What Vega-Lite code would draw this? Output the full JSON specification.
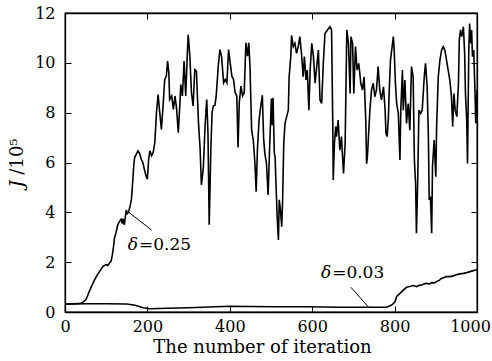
{
  "$schema": "https://vega.github.io/schema/vega-lite/v6.json",
  "width": 412,
  "height": 299,
  "autosize": {"type": "none"},
  "padding": {"left": 65, "top": 13, "right": 15, "bottom": 49},
  "background": "white",
  "config": {
    "view": {"stroke": "black", "strokeWidth": 1.3},
    "font": "DejaVu Serif",
    "axis": {
      "domainColor": "black", "domainWidth": 1.3, "tickColor": "black", "tickWidth": 1,
      "labelColor": "black", "labelFont": "DejaVu Serif", "labelFontSize": 16,
      "titleColor": "black", "titleFont": "DejaVu Serif", "titleFontSize": 18, "titleFontWeight": "normal",
      "grid": false
    }
  },
  "datasets": {
    "d025": [
      {"x":0,"y":0.33},{"x":10,"y":0.33},{"x":20,"y":0.33},{"x":30,"y":0.34},{"x":39,"y":0.35},{"x":45,"y":0.42},{"x":51,"y":0.5},{"x":55,"y":0.65},{"x":59,"y":0.83},{"x":65,"y":1.05},{"x":72,"y":1.3},{"x":78,"y":1.48},{"x":84,"y":1.63},{"x":92,"y":1.83},{"x":100,"y":1.9},{"x":104,"y":1.87},{"x":108,"y":1.96},{"x":112,"y":2.05},{"x":115,"y":2.3},{"x":118,"y":2.65},{"x":120,"y":2.96},{"x":124,"y":3.2},{"x":128,"y":3.5},{"x":132,"y":3.63},{"x":136,"y":3.72},{"x":139,"y":3.55},{"x":141,"y":3.75},{"x":144,"y":3.5},{"x":147,"y":3.9},{"x":149,"y":4.1},{"x":151,"y":3.95},{"x":154,"y":4.0},{"x":158,"y":4.25},{"x":161,"y":4.5},{"x":163,"y":4.9},{"x":165,"y":5.4},{"x":167,"y":5.9},{"x":169,"y":6.2},{"x":173,"y":6.33},{"x":177,"y":6.47},{"x":181,"y":6.37},{"x":185,"y":6.13},{"x":189,"y":6.0},{"x":193,"y":5.7},{"x":197,"y":5.45},{"x":200,"y":5.33},{"x":203,"y":6.13},{"x":206,"y":6.47},{"x":210,"y":6.27},{"x":214,"y":6.4},{"x":218,"y":6.8},{"x":222,"y":8.0},{"x":226,"y":8.73},{"x":230,"y":8.0},{"x":234,"y":7.33},{"x":238,"y":8.27},{"x":242,"y":9.33},{"x":246,"y":9.47},{"x":249,"y":10.07},{"x":252,"y":9.6},{"x":254,"y":8.53},{"x":259,"y":8.67},{"x":263,"y":8.13},{"x":267,"y":8.67},{"x":271,"y":8.13},{"x":275,"y":7.2},{"x":279,"y":8.4},{"x":281,"y":9.13},{"x":285,"y":8.67},{"x":289,"y":10.07},{"x":293,"y":8.67},{"x":297,"y":10.4},{"x":299,"y":11.13},{"x":303,"y":10.27},{"x":307,"y":8.8},{"x":311,"y":8.27},{"x":315,"y":9.73},{"x":319,"y":9.67},{"x":324,"y":7.6},{"x":328,"y":6.53},{"x":331,"y":5.1},{"x":334,"y":5.5},{"x":336,"y":5.87},{"x":340,"y":7.47},{"x":344,"y":8.53},{"x":347,"y":7.2},{"x":350,"y":3.5},{"x":352,"y":5.0},{"x":354,"y":6.53},{"x":357,"y":8.0},{"x":360,"y":8.27},{"x":364,"y":8.3},{"x":367,"y":8.67},{"x":372,"y":9.87},{"x":376,"y":10.53},{"x":380,"y":10.27},{"x":385,"y":9.2},{"x":389,"y":9.33},{"x":393,"y":9.2},{"x":397,"y":10.53},{"x":401,"y":10.0},{"x":405,"y":9.47},{"x":409,"y":9.33},{"x":413,"y":8.8},{"x":417,"y":8.67},{"x":420,"y":6.6},{"x":423,"y":8.4},{"x":427,"y":9.07},{"x":431,"y":8.67},{"x":435,"y":8.8},{"x":439,"y":10.8},{"x":443,"y":10.27},{"x":446,"y":10.8},{"x":449,"y":9.85},{"x":453,"y":7.3},{"x":457,"y":6.9},{"x":461,"y":5.96},{"x":464,"y":4.83},{"x":467,"y":6.5},{"x":471,"y":7.7},{"x":475,"y":8.24},{"x":479,"y":8.7},{"x":482,"y":7.0},{"x":485,"y":6.37},{"x":489,"y":5.96},{"x":493,"y":4.7},{"x":497,"y":6.77},{"x":501,"y":8.57},{"x":503,"y":7.5},{"x":505,"y":8.6},{"x":508,"y":6.4},{"x":510,"y":6.2},{"x":512,"y":5.2},{"x":515,"y":3.82},{"x":518,"y":2.89},{"x":520,"y":4.5},{"x":523,"y":4.09},{"x":526,"y":3.42},{"x":528,"y":4.36},{"x":531,"y":6.77},{"x":534,"y":7.57},{"x":538,"y":7.84},{"x":542,"y":8.1},{"x":544,"y":9.44},{"x":548,"y":10.25},{"x":550,"y":11.1},{"x":554,"y":10.65},{"x":558,"y":10.78},{"x":562,"y":10.38},{"x":566,"y":10.65},{"x":570,"y":11.05},{"x":574,"y":10.38},{"x":578,"y":9.44},{"x":581,"y":10.25},{"x":585,"y":9.31},{"x":588,"y":9.71},{"x":592,"y":8.1},{"x":595,"y":9.71},{"x":599,"y":10.78},{"x":603,"y":10.25},{"x":607,"y":9.18},{"x":611,"y":9.85},{"x":615,"y":10.51},{"x":619,"y":8.51},{"x":623,"y":8.37},{"x":627,"y":9.98},{"x":631,"y":11.18},{"x":637,"y":11.32},{"x":643,"y":11.45},{"x":647,"y":11.32},{"x":650,"y":7.44},{"x":651,"y":5.3},{"x":654,"y":6.77},{"x":657,"y":7.44},{"x":659,"y":7.04},{"x":663,"y":7.7},{"x":667,"y":6.5},{"x":671,"y":7.04},{"x":676,"y":5.56},{"x":680,"y":6.77},{"x":684,"y":11.32},{"x":688,"y":10.78},{"x":692,"y":8.77},{"x":694,"y":11.05},{"x":698,"y":10.78},{"x":701,"y":8.77},{"x":705,"y":10.65},{"x":709,"y":9.71},{"x":713,"y":9.98},{"x":718,"y":9.18},{"x":722,"y":8.91},{"x":726,"y":9.44},{"x":730,"y":7.7},{"x":732,"y":5.95},{"x":734,"y":6.23},{"x":737,"y":7.17},{"x":740,"y":8.1},{"x":744,"y":8.91},{"x":748,"y":9.18},{"x":752,"y":8.64},{"x":756,"y":8.91},{"x":760,"y":9.85},{"x":764,"y":8.91},{"x":768,"y":8.51},{"x":773,"y":9.04},{"x":777,"y":8.1},{"x":779,"y":7.17},{"x":782,"y":7.04},{"x":785,"y":7.84},{"x":787,"y":8.91},{"x":790,"y":10.11},{"x":794,"y":10.65},{"x":797,"y":11.05},{"x":799,"y":10.51},{"x":802,"y":9.18},{"x":805,"y":8.37},{"x":809,"y":7.97},{"x":813,"y":6.1},{"x":815,"y":8.1},{"x":819,"y":9.71},{"x":821,"y":8.1},{"x":825,"y":9.31},{"x":829,"y":7.57},{"x":833,"y":8.37},{"x":837,"y":7.3},{"x":841,"y":9.85},{"x":845,"y":9.44},{"x":848,"y":6.1},{"x":851,"y":5.16},{"x":853,"y":3.16},{"x":856,"y":5.16},{"x":859,"y":8.1},{"x":863,"y":7.97},{"x":867,"y":8.1},{"x":872,"y":9.44},{"x":875,"y":9.98},{"x":879,"y":9.04},{"x":882,"y":7.04},{"x":884,"y":4.5},{"x":887,"y":4.63},{"x":890,"y":3.16},{"x":892,"y":5.83},{"x":896,"y":6.9},{"x":900,"y":5.43},{"x":902,"y":7.44},{"x":906,"y":9.44},{"x":910,"y":10.11},{"x":914,"y":10.51},{"x":918,"y":10.65},{"x":922,"y":10.51},{"x":926,"y":10.11},{"x":930,"y":9.71},{"x":934,"y":9.31},{"x":938,"y":8.64},{"x":941,"y":7.44},{"x":944,"y":8.77},{"x":947,"y":8.1},{"x":951,"y":7.84},{"x":955,"y":9.18},{"x":957,"y":10.91},{"x":960,"y":11.32},{"x":963,"y":11.05},{"x":967,"y":11.45},{"x":970,"y":10.38},{"x":972,"y":8.77},{"x":975,"y":7.7},{"x":977,"y":5.96},{"x":980,"y":10.38},{"x":982,"y":11.58},{"x":985,"y":10.78},{"x":987,"y":11.32},{"x":989,"y":10.25},{"x":992,"y":10.51},{"x":995,"y":8.91},{"x":997,"y":7.57},{"x":999,"y":8.1},{"x":1000,"y":8.91}
    ],
    "d003": [
      {"x":0,"y":0.31},{"x":50,"y":0.33},{"x":100,"y":0.33},{"x":150,"y":0.32},{"x":170,"y":0.27},{"x":190,"y":0.17},{"x":205,"y":0.13},{"x":250,"y":0.15},{"x":300,"y":0.17},{"x":350,"y":0.2},{"x":400,"y":0.23},{"x":450,"y":0.22},{"x":506,"y":0.21},{"x":586,"y":0.21},{"x":667,"y":0.19},{"x":732,"y":0.19},{"x":781,"y":0.19},{"x":793,"y":0.28},{"x":801,"y":0.41},{"x":805,"y":0.62},{"x":813,"y":0.75},{"x":821,"y":0.88},{"x":829,"y":0.99},{"x":837,"y":1.02},{"x":845,"y":1.06},{"x":853,"y":1.02},{"x":860,"y":1.07},{"x":866,"y":1.08},{"x":872,"y":1.13},{"x":878,"y":1.15},{"x":884,"y":1.12},{"x":890,"y":1.18},{"x":896,"y":1.17},{"x":902,"y":1.22},{"x":908,"y":1.27},{"x":914,"y":1.35},{"x":920,"y":1.38},{"x":926,"y":1.42},{"x":934,"y":1.42},{"x":943,"y":1.45},{"x":951,"y":1.5},{"x":959,"y":1.53},{"x":967,"y":1.55},{"x":975,"y":1.58},{"x":983,"y":1.62},{"x":991,"y":1.66},{"x":1000,"y":1.71}
    ],
    "labels": [
      {"x":177,"y":2.49,"sym":"δ","rest":"=0.25"},
      {"x":646,"y":1.35,"sym":"δ","rest":"=0.03"}
    ],
    "arrows": [
      {"x":210,"y":3.29,"x2":155,"y2":4.0},
      {"x":694,"y":0.99,"x2":736,"y2":0.21}
    ]
  },
  "layer": [
    {
      "data": {"name": "d025"},
      "mark": {"type": "line", "color": "black", "strokeWidth": 1.6, "interpolate": "linear"},
      "encoding": {
        "x": {"field": "x", "type": "quantitative",
          "scale": {"domain": [0, 1000], "nice": false, "zero": false},
          "axis": {"orient": "bottom", "values": [0,200,400,600,800,1000], "format": "d", "tickSize": -6, "labelPadding": 12, "labelFlush": false,
            "labelOffset": {"condition": {"test": "datum.value == 1000", "value": -7}, "value": 0},
            "title": "The number of iteration", "titlePadding": 4, "titleX": 197}},
        "y": {"field": "y", "type": "quantitative",
          "scale": {"domain": [0, 12], "nice": false, "zero": true},
          "axis": {"orient": "left", "values": [0,2,4,6,8,10,12], "tickSize": -6, "labelPadding": 16, "labelFlush": false,
            "title": "𝐽 /10⁵", "titlePadding": 8}}
      }
    },
    {
      "data": {"name": "d003"},
      "mark": {"type": "line", "color": "black", "strokeWidth": 1.6},
      "encoding": {
        "x": {"field": "x", "type": "quantitative",
          "axis": {"orient": "top", "values": [0,200,400,600,800,1000], "tickSize": -6, "labels": false, "title": null}},
        "y": {"field": "y", "type": "quantitative",
          "axis": {"orient": "right", "values": [0,2,4,6,8,10,12], "tickSize": -6, "labels": false, "title": null}}
      }
    },
    {
      "data": {"name": "arrows"},
      "mark": {"type": "rule", "color": "black", "strokeWidth": 1},
      "encoding": {
        "x": {"field": "x", "type": "quantitative", "axis": null},
        "y": {"field": "y", "type": "quantitative", "axis": null},
        "x2": {"field": "x2"},
        "y2": {"field": "y2"}
      }
    },
    {
      "data": {"name": "labels"},
      "mark": {"type": "text", "font": "DejaVu Serif", "fontSize": 17, "fontStyle": "italic", "align": "right", "baseline": "alphabetic", "color": "black"},
      "encoding": {
        "x": {"field": "x", "type": "quantitative", "axis": null},
        "y": {"field": "y", "type": "quantitative", "axis": null},
        "text": {"field": "sym"}
      }
    },
    {
      "data": {"name": "labels"},
      "mark": {"type": "text", "font": "DejaVu Serif", "fontSize": 17, "align": "left", "baseline": "alphabetic", "color": "black", "dx": 1},
      "encoding": {
        "x": {"field": "x", "type": "quantitative", "axis": null},
        "y": {"field": "y", "type": "quantitative", "axis": null},
        "text": {"field": "rest"}
      }
    }
  ]
}
